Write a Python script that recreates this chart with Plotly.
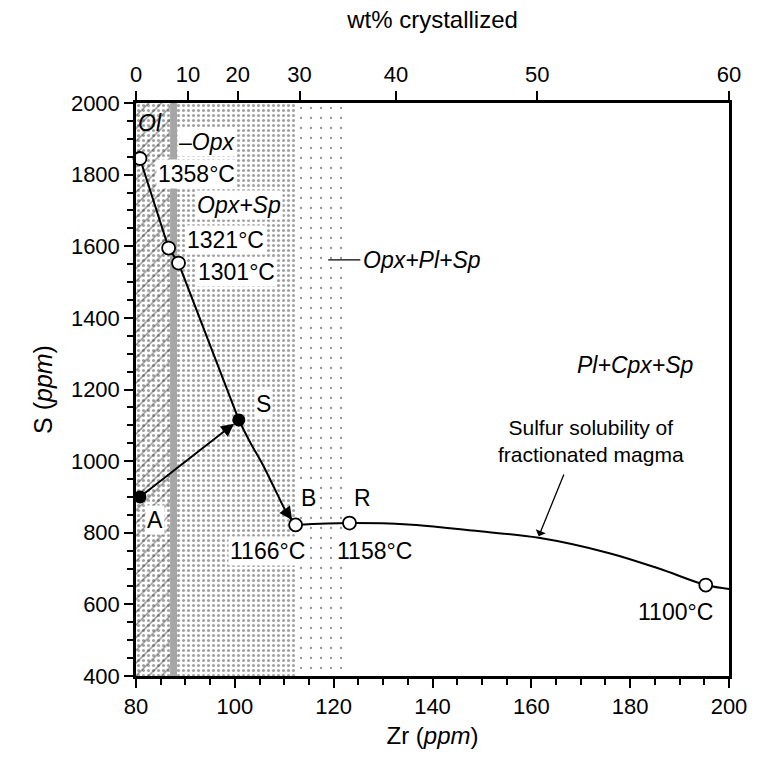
import plotly.graph_objects as go

# ---------------- data ----------------
# stability fields along the Zr axis (ppm)
ol_field = [80.0, 86.9]          # Ol (hatched)
opx_field = [86.9, 88.3]         # Opx (grey band)
opxsp_field = [80.0, 112.3]      # Opx+Sp (dense dots)
opxplsp_field = [112.3, 123.2]   # Opx+Pl+Sp (sparse dots)

# liquid line of descent: olivine/opx part (straight segments)
upper_zr = [80.8, 86.6, 88.6, 100.8]
upper_s = [1845, 1595, 1553, 1115]
# S -> B curve
sb_zr = [100.8, 103.2, 105.5, 108.2, 110.2, 111.6, 112.3]
sb_s = [1115, 1050, 994, 919, 863, 834, 822]
# sulfur solubility of fractionated magma
low_zr = [112.3, 123.2, 135.0, 148.0, 161.5, 175.8, 185.8, 195.3, 200.0]
low_s = [822, 827, 823, 806, 786, 743, 700, 654, 643]

# temperature points (open circles)
t_zr = [80.8, 86.6, 88.6, 112.3, 123.2, 195.3]
t_s = [1845, 1595, 1553, 822, 827, 654]
t_lab = ["1358°C", "1321°C", "1301°C", "1166°C", "1158°C", "1100°C"]

# points A and S (filled)
a_pt = (80.8, 900)
s_pt = (100.8, 1115)

# axis ticks
x_ticks = [80, 100, 120, 140, 160, 180, 200]
y_ticks = [400, 600, 800, 1000, 1200, 1400, 1600, 1800, 2000]
wt_labels = [0, 10, 20, 30, 40, 50, 60]
wt_tick_zr = [80.0, 90.5, 100.6, 113.1, 132.6, 161.2, 200.0]

FONT = "Liberation Sans, Arial, Helvetica, sans-serif"
YMIN, YMAX = 400, 2000
TICKF = 22
ANNF = 23


def box(x0, x1):
    return [x0, x1, x1, x0, x0], [YMIN, YMIN, YMAX, YMAX, YMIN]


fig = go.Figure()

# dense dots field
bx, by = box(*opxsp_field)
fig.add_trace(go.Scatter(x=bx, y=by, mode="lines", fill="toself", line=dict(width=0),
                         fillcolor="white",
                         fillpattern=dict(shape=".", size=5, solidity=0.3, fgcolor="#444",
                                          bgcolor="white"),
                         hoverinfo="skip", showlegend=False))
# sparse dots field
bx, by = box(*opxplsp_field)
fig.add_trace(go.Scatter(x=bx, y=by, mode="lines", fill="toself", line=dict(width=0),
                         fillcolor="white",
                         fillpattern=dict(shape=".", size=10, solidity=0.04, fgcolor="#222",
                                          bgcolor="white"),
                         hoverinfo="skip", showlegend=False))
# hatched Ol field
bx, by = box(*ol_field)
fig.add_trace(go.Scatter(x=bx, y=by, mode="lines", fill="toself", line=dict(width=0),
                         fillcolor="rgba(0,0,0,0)",
                         fillpattern=dict(shape="/", size=9, solidity=0.16, fgcolor="#222",
                                          bgcolor="rgba(0,0,0,0)"),
                         hoverinfo="skip", showlegend=False))
# grey Opx band
bx, by = box(*opx_field)
fig.add_trace(go.Scatter(x=bx, y=by, mode="lines", fill="toself", line=dict(width=0),
                         fillcolor="#a6a6a6", hoverinfo="skip", showlegend=False))

# curves
fig.add_trace(go.Scatter(x=upper_zr, y=upper_s, mode="lines",
                         line=dict(color="black", width=2), hoverinfo="skip", showlegend=False))
fig.add_trace(go.Scatter(x=sb_zr, y=sb_s, mode="lines",
                         line=dict(color="black", width=2, shape="spline"),
                         hoverinfo="skip", showlegend=False))
fig.add_trace(go.Scatter(x=low_zr, y=low_s, mode="lines",
                         line=dict(color="black", width=2, shape="spline"),
                         hoverinfo="skip", showlegend=False))

# filled points
fig.add_trace(go.Scatter(x=[a_pt[0], s_pt[0]], y=[a_pt[1], s_pt[1]], mode="markers",
                         marker=dict(size=13, color="black"), cliponaxis=False,
                         hoverinfo="skip", showlegend=False))
# open circles
fig.add_trace(go.Scatter(x=t_zr, y=t_s, mode="markers",
                         marker=dict(size=13, color="white", line=dict(color="black", width=1.8)),
                         cliponaxis=False, hoverinfo="skip", showlegend=False))

# top axis helper trace
fig.add_trace(go.Scatter(x=[80, 200], y=[YMIN, YMIN], xaxis="x2", mode="markers",
                         marker=dict(opacity=0), hoverinfo="skip", showlegend=False))

ann = []


def lab(x, y, text, size=ANNF, bg="white", **kw):
    d = dict(x=x, y=y, text=text, showarrow=False, xref="x", yref="y",
             font=dict(family=FONT, size=size, color="black"), borderpad=1)
    if bg:
        d["bgcolor"] = bg
    d.update(kw)
    ann.append(d)


# field labels
lab(82.9, 1944, "<i>Ol</i>", bg=None)
lab(88.35, 1891, "–<i>Opx</i>", xanchor="left")
lab(100.9, 1715, "<i>Opx+Sp</i>")
lab(125.6, 1562, "<i>Opx+Pl+Sp</i>", xanchor="left", bg=None)
lab(181.1, 1268, "<i>Pl+Cpx+Sp</i>", bg=None)

# temperature labels
lab(92.2, 1802, t_lab[0])
lab(98.1, 1617, t_lab[1])
lab(100.3, 1528, t_lab[2])
lab(106.7, 749, t_lab[3])
lab(128.2, 749, t_lab[4])
lab(189.2, 579, t_lab[5], bg=None)

# point letters
lab(105.7, 1159, "S")
lab(83.8, 836, "A")
lab(114.9, 897, "B")
lab(125.8, 897, "R", bg=None)

lab(172.1, 1056, "Sulfur solubility of<br>fractionated magma", bg=None, size=21)

# A -> S arrow
ann.append(dict(x=s_pt[0], y=s_pt[1], ax=a_pt[0], ay=a_pt[1], xref="x", yref="y",
                axref="x", ayref="y", showarrow=True, arrowhead=2, arrowsize=1.3,
                arrowwidth=2, arrowcolor="black", standoff=6, text=""))
# S -> B arrowhead
ann.append(dict(x=sb_zr[-1], y=sb_s[-1], ax=sb_zr[-3], ay=sb_s[-3], xref="x", yref="y",
                axref="x", ayref="y", showarrow=True, arrowhead=2, arrowsize=1.3,
                arrowwidth=2, arrowcolor="black", standoff=6, text=""))
# pointer to solubility curve
ann.append(dict(x=161.5, y=790, ax=166.7, ay=967, xref="x", yref="y",
                axref="x", ayref="y", showarrow=True, arrowhead=1, arrowsize=1.4,
                arrowwidth=1.3, arrowcolor="black", standoff=0, text=""))

shapes = [dict(type="line", xref="x", yref="y", x0=118.9, x1=125.4, y0=1562, y1=1562,
               line=dict(color="black", width=1.2))]

fig.update_layout(
    width=759, height=773,
    margin=dict(l=136, r=25, t=103, b=97),
    paper_bgcolor="white", plot_bgcolor="white",
    font=dict(family=FONT, size=TICKF, color="black"),
    showlegend=False,
    annotations=ann, shapes=shapes,
    xaxis=dict(range=[80, 200], tickvals=x_ticks, ticks="outside", ticklen=9, tickwidth=2,
               tickcolor="black", showline=True, linewidth=2.5, linecolor="black",
               mirror=False, showgrid=False, zeroline=False,
               minor=dict(dtick=5, tick0=80, ticks="outside", ticklen=6, tickwidth=2,
                          tickcolor="black", showgrid=False),
               tickfont=dict(size=TICKF),
               title=dict(text="Zr (<i>ppm</i>)", font=dict(size=24), standoff=10)),
    xaxis2=dict(range=[80, 200], overlaying="x", side="top", tickvals=wt_tick_zr,
                ticktext=[str(v) for v in wt_labels], ticks="outside", ticklen=9,
                tickwidth=2, tickcolor="black", showline=True, linewidth=2.5,
                linecolor="black", showgrid=False, zeroline=False, tickfont=dict(size=TICKF),
                title=dict(text="wt% crystallized", font=dict(size=24), standoff=28)),
    yaxis=dict(range=[YMIN, YMAX], tickvals=y_ticks, ticks="outside", ticklen=9, tickwidth=2,
               tickcolor="black", showline=True, linewidth=2.5, linecolor="black",
               mirror=True, showgrid=False, zeroline=False,
               minor=dict(dtick=50, tick0=400, ticks="outside", ticklen=6, tickwidth=2,
                          tickcolor="black", showgrid=False),
               tickfont=dict(size=TICKF),
               title=dict(text="S (<i>ppm</i>)", font=dict(size=25), standoff=12)),
)

fig.write_html("out.html")
